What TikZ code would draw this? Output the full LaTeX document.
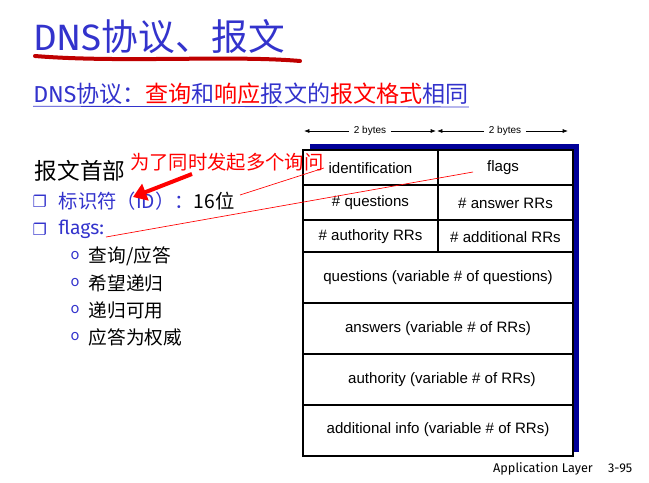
\documentclass[tikz,border=0pt]{standalone}
\usepackage{fontspec}
\setmainfont{Liberation Sans}
\newfontfamily\cjk{Noto Sans CJK SC}
\newfontfamily\comic{Fira Sans}
\newfontfamily\djv{DejaVu Sans}
\usetikzlibrary{arrows.meta}
\definecolor{tblue}{RGB}{51,51,204}
\definecolor{sred}{RGB}{255,0,0}
\definecolor{shadow}{RGB}{0,0,153}
\begin{document}
\begin{tikzpicture}[x=0.75pt,y=-0.75pt,
  cell/.style={font=\fontsize{11.3}{13}\selectfont},
  byte/.style={font=\fontsize{7.5}{9}\selectfont},
  bul/.style={anchor=west,font=\cjk\fontsize{14.5}{16}\selectfont},
  sub/.style={anchor=west,font=\cjk\fontsize{14}{16}\selectfont},
  redline/.style={draw=sred,line width=0.5pt}]
\useasboundingbox (0,0) rectangle (649,482);
% title
\node[anchor=base west,inner sep=0,text=tblue,font=\fontsize{27.5}{30}\selectfont] (title) at (33,50) {{\comic DNS}{\cjk 协议、报文}};
\draw[draw=red!75!black,line width=3pt,line cap=round] (35,56) .. controls (120,63) and (230,55) .. (300,61);
\node[anchor=base west,inner sep=0,font=\fontsize{17.3}{20}\selectfont] (sub) at (33,102) {\textcolor{tblue}{\comic DNS}{\cjk\textcolor{tblue}{协议：}\textcolor{sred}{查询}\textcolor{tblue}{和}\textcolor{sred}{响应}\textcolor{tblue}{报文的}\textcolor{sred}{报文格式}\textcolor{tblue}{相同}}};
\draw[tblue,line width=0.6pt] (sub.south west) ++(0,2) -- ([yshift=-2pt]sub.south east);
% left text
\node[bul,font=\cjk\fontsize{17}{19}\selectfont] (hdr) at (30,171) {报文首部};
\node[bul,text=tblue] (b1s) at (28,201) {\djv\fontsize{12}{14}\selectfont ❐};
\node[bul] (b1) at (54,201) {\textcolor{tblue}{标识符（ID）：}16位};
\node[bul,text=tblue] (b2s) at (28,229) {\djv\fontsize{12}{14}\selectfont ❐};
\node[bul,text=tblue] (b2) at (54,229) {\comic flags:};
\foreach \t [count=\i] in {查询/应答,希望递归,递归可用,应答为权威}{
  \node[sub,text=tblue] (o\i) at (66,229+27*\i) {\fontsize{11}{12}\selectfont o};
  \node[sub] (s\i) at (84,229+27*\i) {\t};
}
% table
\fill[shadow] (310,144) rectangle (579,452);
\fill[white] (303,150) rectangle (573,456);
\foreach \y in {185,220,252,303,354,405}{\draw[line width=0.8pt] (303,\y) -- (573,\y);}
\draw[line width=0.8pt] (438,150) -- (438,252);
\draw[line width=0.9pt] (303,150) rectangle (573,456);
\node[cell] (id) at (370.5,168) {identification};
\node[cell] (fl) at (503,168) {flags};
\node[cell] (q) at (370.5,203) {\# questions};
\node[cell] (an) at (505.5,203) {\# answer RRs};
\node[cell] (au) at (370.5,237) {\# authority RRs};
\node[cell] (ad) at (505.5,237) {\# additional RRs};
\node[cell] (r1) at (438,278) {questions (variable \# of questions)};
\node[cell] (r2) at (438,329) {answers (variable \# of RRs)};
\node[cell] (r3) at (442,380) {authority (variable \# of RRs)};
\node[cell] (r4) at (438,430) {additional info (variable \# of RRs)};
% byte arrows
\node[byte] (bt1) at (370,131) {2 bytes};
\node[byte] (bt2) at (505,131) {2 bytes};
\draw[-{Latex[length=4pt]},line width=0.5pt] (bt1.west) -- (304,131);
\draw[-{Latex[length=4pt]},line width=0.5pt] (bt1.east) -- (436,131);
\draw[-{Latex[length=4pt]},line width=0.5pt] (bt2.west) -- (437,131);
\draw[-{Latex[length=4pt]},line width=0.5pt] (bt2.east) -- (568,131);
% annotation
\node[anchor=west,inner sep=0,text=sred,font=\cjk\fontsize{14.5}{16}\selectfont] (note) at (130,162) {为了同时发起多个询问};
\coordinate (ast) at (192,174);
\coordinate (aen) at (133,197);
\draw[sred,line width=3pt,-{Triangle[length=10pt,width=13pt]}] (ast) -- (aen);
\coordinate (l1) at (240,195);
\coordinate (l2) at (106,237);
\coordinate (e2) at (473,172);
\draw[redline] (l1) -- (id.west);
\draw[redline] (l2) -- (e2);
\node[anchor=base east,font=\comic\fontsize{9.5}{11}\selectfont] (foot) at (637,472) {Application Layer\hspace{1.2em}3-95};
\end{tikzpicture}
\end{document}
